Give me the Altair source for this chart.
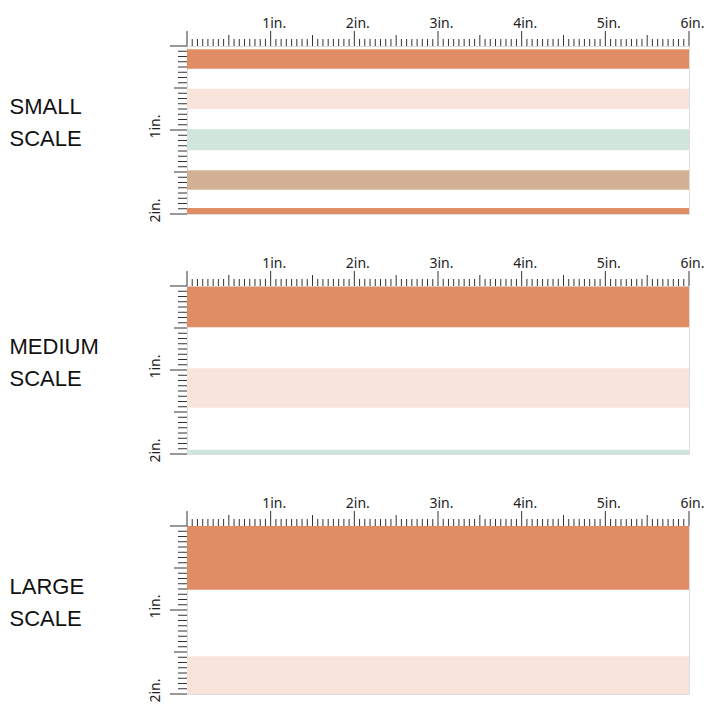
import altair as alt
import numpy as np
import pandas as pd

# ---- data ----
ORANGE = "#E08C64"
PEACH = "#F8E4DA"
MINT = "#D0E6DC"
TAN = "#D2B094"

PANEL_NAMES = [["SMALL", "SCALE"], ["MEDIUM", "SCALE"], ["LARGE", "SCALE"]]

SMALL_START = [0.04, 0.51, 0.99, 1.48, 1.93]
SMALL_END = [0.27, 0.75, 1.24, 1.71, 2.00]
SMALL_COLORS = [ORANGE, PEACH, MINT, TAN, ORANGE]

MEDIUM_START = [0.01, 0.98, 1.95]
MEDIUM_END = [0.49, 1.45, 2.00]
MEDIUM_COLORS = [ORANGE, PEACH, MINT]

LARGE_START = [0.00, 1.55]
LARGE_END = [0.76, 2.00]
LARGE_COLORS = [ORANGE, PEACH]

STRIPE_LEFT = 0.0
STRIPE_RIGHT = 6.0

X_INCHES = [1, 2, 3, 4, 5, 6]
Y_INCHES = [1, 2]
X_MAX = 6
Y_MAX = 2

# ruler graduations (1/16 inch)
def graduations(maxv):
    vals = np.arange(0, maxv * 16 + 1) / 16.0
    small = [v for v in vals if (v * 2) % 1 != 0]
    half = [v for v in vals if (v * 2) % 1 == 0 and v % 1 != 0]
    inch = [v for v in vals if v % 1 == 0]
    return small, half, inch

W, H = 502, 168
TICK = "#333333"

xscale = alt.Scale(domain=[0, X_MAX], nice=False, zero=False)
yscale = alt.Scale(domain=[0, Y_MAX], nice=False, zero=False, reverse=True)


def panel(name, starts, ends, colors):
    df = pd.DataFrame({"y0": starts, "y1": ends, "color": colors,
                       "x0": STRIPE_LEFT, "x1": STRIPE_RIGHT})
    xaxis = alt.Axis(
        orient="top", values=X_INCHES, labelExpr="datum.value + 'in.'",
        ticks=False, domain=False, grid=False, labelPadding=16,
        labelFont="Noto Sans", labelFontSize=14, labelColor="#222222",
        labelAlign="center", labelOffset=3, title=None)
    yaxis = alt.Axis(
        orient="left", values=Y_INCHES, labelExpr="datum.value + 'in.'",
        ticks=False, domain=False, grid=False, labelPadding=25,
        labelAngle=270, labelAlign="center", labelBaseline="bottom",
        labelOffset=-4,
        labelFont="Noto Sans", labelFontSize=14, labelColor="#222222",
        title=name, titleAngle=0, titleAlign="left", titleBaseline="middle",
        titleX=-178, titleY=H / 2 - 24, titleFont="Liberation Sans",
        titleFontSize=22, titleFontWeight="normal", titleLineHeight=32,
        titleColor="#111111")
    rects = alt.Chart(df).mark_rect().encode(
        x=alt.X("x0:Q", scale=xscale, axis=xaxis),
        x2="x1:Q",
        y=alt.Y("y0:Q", scale=yscale, axis=yaxis),
        y2="y1:Q",
        color=alt.Color("color:N", scale=None),
    )

    layers = [rects]
    xs, xh, xi = graduations(X_MAX)
    for vals, ln in [(xs, 7), (xh, 11), (xi, 15)]:
        layers.append(alt.Chart(pd.DataFrame({"pos": vals})).mark_rule(
            color=TICK, strokeWidth=1).encode(
            x=alt.X("pos:Q", scale=xscale, axis=xaxis),
            y=alt.value(0), y2=alt.value(-ln)))
    ys, yh, yi = graduations(Y_MAX)
    for vals, ln in [(ys, 9), (yh, 13), (yi, 17)]:
        layers.append(alt.Chart(pd.DataFrame({"pos": vals})).mark_rule(
            color=TICK, strokeWidth=1).encode(
            y=alt.Y("pos:Q", scale=yscale, axis=yaxis),
            x=alt.value(0), x2=alt.value(-ln)))
    return alt.layer(*layers).properties(width=W, height=H)


chart = alt.vconcat(
    panel(PANEL_NAMES[0], SMALL_START, SMALL_END, SMALL_COLORS),
    panel(PANEL_NAMES[1], MEDIUM_START, MEDIUM_END, MEDIUM_COLORS),
    panel(PANEL_NAMES[2], LARGE_START, LARGE_END, LARGE_COLORS),
    spacing=72, bounds="flush",
).properties(
    padding={"left": 0, "top": 7, "right": 5, "bottom": 5},
).configure_view(strokeOpacity=0, strokeWidth=0).configure(
    background="white").configure_axis(grid=False, domain=False, ticks=False)

chart.save("out.html", embed_options={"renderer": "svg", "actions": False})
